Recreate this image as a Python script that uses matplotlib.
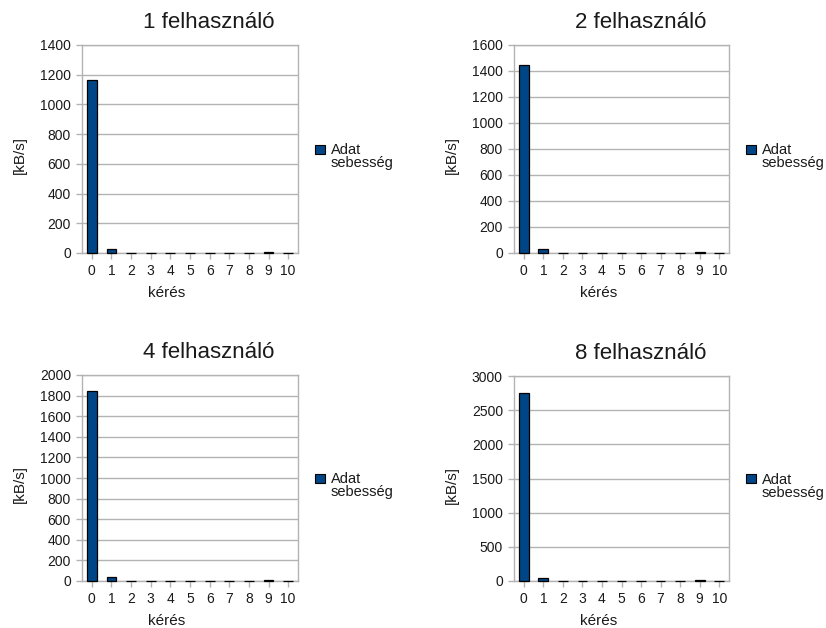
import matplotlib
matplotlib.use("Agg")
import matplotlib.pyplot as plt
from matplotlib.patches import Rectangle

plt.rcParams['font.family'] = ['Liberation Sans', 'DejaVu Sans']

keres = list(range(11))
kat_cimkek = [str(k) for k in keres]

cimek = ["1 felhasználó", "2 felhasználó", "4 felhasználó", "8 felhasználó"]

seb_1 = [1165, 25, 3, 3, 3, 3, 3, 3, 3, 6, 3]
seb_2 = [1443, 30, 3, 3, 3, 3, 3, 3, 3, 7, 3]
seb_4 = [1841, 38, 3, 3, 3, 3, 3, 3, 3, 8, 3]
seb_8 = [2746, 40, 4, 4, 4, 4, 4, 4, 4, 10, 4]

y_max = [1400, 1600, 2000, 3000]
y_lep = [200, 200, 200, 500]

sorozat = "Adat\nsebesség"
bar_szin = "#004586"
racs = "#b3b3b3"
szoveg = "#1a1a1a"

fig = plt.figure(figsize=(8.26, 6.28), dpi=100)

# axes positions in pixels (left, top, right, bottom)
poz = [(82, 45, 298, 253), (514, 45, 729, 253),
       (82, 375, 298, 581), (514, 376, 729, 581)]

adatok = [seb_1, seb_2, seb_4, seb_8]

for i in range(4):
    l, t, r, b = poz[i]
    ax = fig.add_axes([l / 826, 1 - b / 628, (r - l) / 826, (b - t) / 628])
    oszl = ax.bar(keres, adatok[i], width=0.5, color=bar_szin, edgecolor="black", linewidth=0.9, zorder=3)
    for o in oszl:
        o.set_clip_on(False)
    ax.set_xlim(-0.5, 10.5)
    ax.set_ylim(0, y_max[i])
    ax.set_yticks(range(0, y_max[i] + 1, y_lep[i]))
    ax.set_xticks(keres)
    ax.set_xticklabels(kat_cimkek)
    ax.yaxis.grid(True, color=racs, linewidth=1.0, zorder=0)
    for s in ax.spines.values():
        s.set_color(racs)
        s.set_linewidth(1.0)
    ax.tick_params(axis='both', colors=racs, labelcolor=szoveg, labelsize=10, length=4, width=1.0)
    ax.tick_params(axis='y', pad=4)
    ax.tick_params(axis='x', pad=4)

    ax.set_xlabel("kérés", fontsize=11, color=szoveg)
    ax.xaxis.set_label_coords(0.394, -0.16)
    ax.set_ylabel("[kB/s]", fontsize=11, color=szoveg)
    ax.yaxis.set_label_coords(-0.255, 0.47)

    ax.text(0.587, 1.082, cimek[i], transform=ax.transAxes, ha='center', va='baseline',
            fontsize=16, color=szoveg)

    # legend box
    ax.add_patch(Rectangle((1.079, 0.476), 10 / (r - l), 9 / (b - t), transform=ax.transAxes,
                           facecolor=bar_szin, edgecolor="black", linewidth=0.8, clip_on=False))
    ax.text(1.153, 0.527, sorozat, transform=ax.transAxes, ha='left', va='top',
            fontsize=10.5, color=szoveg, linespacing=0.9)

fig.savefig("out.png", dpi=100)
